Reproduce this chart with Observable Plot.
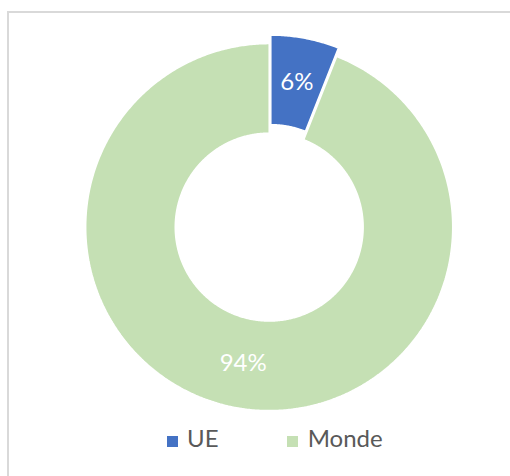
<!DOCTYPE html>
<html><head><meta charset="utf-8">
<script src="https://cdn.jsdelivr.net/npm/d3@7"></script>
<script src="https://cdn.jsdelivr.net/npm/@observablehq/plot@0.6"></script>
<style>
html,body{margin:0;padding:0;background:#fff}
body{width:510px;height:476px;overflow:hidden;position:relative;font-family:Lato,sans-serif}
#frame{position:absolute;left:7px;top:11px;width:560px;height:520px;border:2px solid #d9d9d9;box-sizing:border-box}
#chart{position:absolute;left:0;top:0}
#legend{position:absolute;left:166.7px;top:423.6px}
.lg-swatches{font-family:Lato,sans-serif !important;font-size:24px !important;line-height:1.2;color:#595959;margin:0 !important;display:flex !important;align-items:baseline !important;min-height:0 !important;flex-wrap:nowrap !important}
.lg-swatches .lg-swatch{display:inline-flex !important;align-items:baseline !important;margin-right:0 !important;width:120.6px}
.lg-swatches .lg-swatch > svg{margin-right:9.4px !important;margin-bottom:1.6px}
</style></head><body>
<div id="frame"></div>
<div id="chart"></div>
<div id="legend"></div>
<script>
const categories = ["UE", "Monde"];
const values = [6, 94];
const labels = ["6%", "94%"];
const colors = ["#4472C4", "#C5E0B4"];
const explode = [0.047, 0];
const holeRatio = 0.512;

const arcs = d3.pie().sort(null).value(d => d)(values);
const rings = [];
const labelData = [];
arcs.forEach((a, i) => {
  const mid = (a.startAngle + a.endAngle) / 2;
  const ox = explode[i] * Math.sin(mid), oy = explode[i] * Math.cos(mid);
  const n = Math.max(4, Math.ceil((a.endAngle - a.startAngle) / (Math.PI / 360)));
  const pts = [];
  for (let k = 0; k <= n; k++) {
    const t = a.startAngle + (a.endAngle - a.startAngle) * k / n;
    pts.push({cat: categories[i], x: ox + Math.sin(t), y: oy + Math.cos(t)});
  }
  for (let k = n; k >= 0; k--) {
    const t = a.startAngle + (a.endAngle - a.startAngle) * k / n;
    pts.push({cat: categories[i], x: ox + holeRatio * Math.sin(t), y: oy + holeRatio * Math.cos(t)});
  }
  pts.push({...pts[0]});
  rings.push(...pts);
  const rm = (1 + holeRatio) / 2;
  labelData.push({label: labels[i], x: ox + rm * Math.sin(mid), y: oy + rm * Math.cos(mid)});
});

const cx = 268.7, cy = 226.6, R = 183.5;
const chart = Plot.plot({
  width: 510,
  height: 420,
  margin: 0,
  x: {domain: [-1, 1], range: [cx - R, cx + R], axis: null},
  y: {domain: [-1, 1], range: [cy + R, cy - R], axis: null},
  color: {domain: categories, range: colors},
  style: {fontFamily: "Lato, sans-serif", background: "transparent", overflow: "visible"},
  marks: [
    Plot.line(rings, {x: "x", y: "y", z: "cat", fill: "cat", stroke: "white", strokeWidth: 1.5, strokeLinejoin: "miter", curve: "linear"}),
    Plot.text(labelData, {x: "x", y: "y", text: "label", fill: "white", fontSize: 24, fontFamily: "Lato, sans-serif"})
  ]
});
document.getElementById("chart").appendChild(chart);

const legend = Plot.legend({
  color: {domain: categories, range: colors},
  legend: "swatches",
  swatchSize: 11,
  className: "lg"
});
document.getElementById("legend").appendChild(legend);
</script>
</body></html>
